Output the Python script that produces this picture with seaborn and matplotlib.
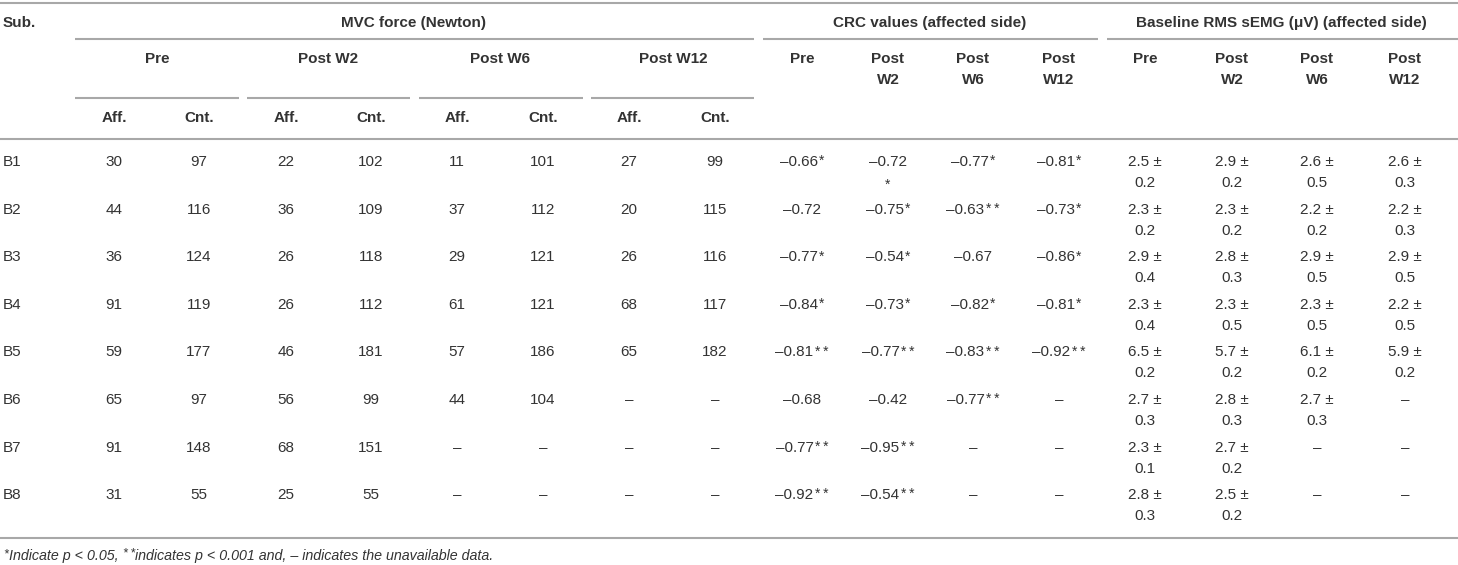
import numpy as np
import pandas as pd
import seaborn as sns
import matplotlib.pyplot as plt

sns.set_theme(style='white')
plt.rcParams['font.family'] = ['Liberation Sans', 'DejaVu Sans']

SUBJECTS = ['B1', 'B2', 'B3', 'B4', 'B5', 'B6', 'B7', 'B8']

# MVC force (Newton), affected / contralateral side
MVC_PRE_AFF = [30, 44, 36, 91, 59, 65, 91, 31]
MVC_PRE_CNT = [97, 116, 124, 119, 177, 97, 148, 55]
MVC_W2_AFF = [22, 36, 26, 26, 46, 56, 68, 25]
MVC_W2_CNT = [102, 109, 118, 112, 181, 99, 151, 55]
MVC_W6_AFF = [11, 37, 29, 61, 57, 44, None, None]
MVC_W6_CNT = [101, 112, 121, 121, 186, 104, None, None]
MVC_W12_AFF = [27, 20, 26, 68, 65, None, None, None]
MVC_W12_CNT = [99, 115, 116, 117, 182, None, None, None]

# CRC values (affected side) and significance marks
CRC_PRE = [-0.66, -0.72, -0.77, -0.84, -0.81, -0.68, -0.77, -0.92]
CRC_PRE_SIG = ['*', '', '*', '*', '**', '', '**', '**']
CRC_W2 = [-0.72, -0.75, -0.54, -0.73, -0.77, -0.42, -0.95, -0.54]
CRC_W2_SIG = ['*', '*', '*', '*', '**', '', '**', '**']
CRC_W6 = [-0.77, -0.63, -0.67, -0.82, -0.83, -0.77, None, None]
CRC_W6_SIG = ['*', '**', '', '*', '**', '**', '', '']
CRC_W12 = [-0.81, -0.73, -0.86, -0.81, -0.92, None, None, None]
CRC_W12_SIG = ['*', '*', '*', '*', '**', '', '', '']

# Baseline RMS sEMG (uV), mean and sd
RMS_PRE_MEAN = [2.5, 2.3, 2.9, 2.3, 6.5, 2.7, 2.3, 2.8]
RMS_PRE_SD = [0.2, 0.2, 0.4, 0.4, 0.2, 0.3, 0.1, 0.3]
RMS_W2_MEAN = [2.9, 2.3, 2.8, 2.3, 5.7, 2.8, 2.7, 2.5]
RMS_W2_SD = [0.2, 0.2, 0.3, 0.5, 0.2, 0.3, 0.2, 0.2]
RMS_W6_MEAN = [2.6, 2.2, 2.9, 2.3, 6.1, 2.7, None, None]
RMS_W6_SD = [0.5, 0.2, 0.5, 0.5, 0.2, 0.3, None, None]
RMS_W12_MEAN = [2.6, 2.2, 2.9, 2.2, 5.9, None, None, None]
RMS_W12_SD = [0.3, 0.3, 0.5, 0.5, 0.2, None, None, None]

GROUPS = ['MVC force (Newton)', 'CRC values (affected side)',
          'Baseline RMS sEMG (\u03bcV) (affected side)']
PERIODS = ['Pre', 'Post W2', 'Post W6', 'Post W12']
SIDES = ['Aff.', 'Cnt.']
FOOTNOTE = ['Indicate p < 0.05, ', 'indicates p < 0.001 and, \u2013 indicates the unavailable data.']
DASH = '\u2013'

mvc = pd.DataFrame({
    'pre_aff': MVC_PRE_AFF, 'pre_cnt': MVC_PRE_CNT,
    'w2_aff': MVC_W2_AFF, 'w2_cnt': MVC_W2_CNT,
    'w6_aff': MVC_W6_AFF, 'w6_cnt': MVC_W6_CNT,
    'w12_aff': MVC_W12_AFF, 'w12_cnt': MVC_W12_CNT,
}, index=SUBJECTS)
crc = [CRC_PRE, CRC_W2, CRC_W6, CRC_W12]
crc_sig = [CRC_PRE_SIG, CRC_W2_SIG, CRC_W6_SIG, CRC_W12_SIG]
rms = [(RMS_PRE_MEAN, RMS_PRE_SD), (RMS_W2_MEAN, RMS_W2_SD),
       (RMS_W6_MEAN, RMS_W6_SD), (RMS_W12_MEAN, RMS_W12_SD)]

# layout (pixels)
W, H = 1458, 565
MVC_X = [114, 199, 286, 371, 457, 543, 629, 715]
MVC_PERIOD_X = [157, 328, 500, 673]
MVC_UNDER = [(75, 239), (247, 410), (419, 583), (591, 754)]
CRC_X = [802, 888, 973, 1059]
RMS_X = [1145, 1232, 1317, 1405]
GROUP_X = [414, 930, 1281]
GROUP_LINES = [(75, 754), (763, 1098), (1107, W)]
ROW_Y0, ROW_STEP = 162, 47.6
WRAP_STAR = {(1, 0)}  # CRC Post W2, B1: mark falls onto a second line

TXT = '#333333'
LINE = '#a8a8a8'
FS = 11
STAR_FS = 10
STAR_W = {'': 0, '*': 6, '**': 15}


def stars(sig):
    return '\u2009'.join(sig)


fig = plt.figure(figsize=(W / 100, H / 100), dpi=100)
ax = fig.add_axes([0, 0, 1, 1])
ax.set_xlim(0, W)
ax.set_ylim(H, 0)
ax.axis('off')


def txt(x, y, s, bold=False, ha='center', size=FS, **kw):
    # y is the visual middle of capitals
    return ax.text(x, y + size * 0.36, s, ha=ha, va='baseline', fontsize=size,
                   fontweight='bold' if bold else 'normal', color=TXT, **kw)


def hline(y, x0, x1):
    ax.plot([x0, x1], [y, y], color=LINE, lw=1.5, solid_capstyle='butt')


# rules
hline(3, 0, W)
hline(139, 0, W)
hline(538, 0, W)
for x0, x1 in GROUP_LINES:
    hline(39, x0, x1)
for x0, x1 in MVC_UNDER:
    hline(98, x0, x1)

# header
txt(3, 23, 'Sub.', bold=True, ha='left')
for x, g in zip(GROUP_X, GROUPS):
    txt(x, 23, g, bold=True)
for x, p in zip(MVC_PERIOD_X, PERIODS):
    txt(x, 59, p, bold=True)
for i, x in enumerate(MVC_X):
    txt(x, 118, SIDES[i % 2], bold=True)
for xs in (CRC_X, RMS_X):
    for x, p in zip(xs, PERIODS):
        parts = p.split(' ')
        txt(x, 59, parts[0], bold=True)
        if len(parts) > 1:
            txt(x, 80, parts[1], bold=True)

# body
for r, subj in enumerate(SUBJECTS):
    y = ROW_Y0 + r * ROW_STEP
    txt(3, y, subj, ha='left')
    for c, col in enumerate(mvc.columns):
        v = mvc.iloc[r, c]
        txt(MVC_X[c], y, DASH if pd.isna(v) else f'{int(v)}')
    for c in range(4):
        v, sig = crc[c][r], crc_sig[c][r]
        if v is None:
            txt(CRC_X[c], y, DASH)
            continue
        s = f'{DASH}{abs(v):.2f}'
        if (c, r) in WRAP_STAR:
            txt(CRC_X[c], y, s)
            ax.text(CRC_X[c], y + 16, stars(sig), ha='center', va='top',
                    fontsize=STAR_FS, color=TXT)
            continue
        t = txt(CRC_X[c] - STAR_W[sig] / 2, y, s)
        if sig:
            ax.annotate(stars(sig), xy=(1, 1), xycoords=t, xytext=(0.8, 0.5),
                        textcoords='offset points', ha='left', va='top',
                        fontsize=STAR_FS, color=TXT)

    for c in range(4):
        m, sd = rms[c][0][r], rms[c][1][r]
        if m is None:
            txt(RMS_X[c], y, DASH)
            continue
        txt(RMS_X[c], y, f'{m:.1f} \u00b1')
        txt(RMS_X[c], y + 21, f'{sd:.1f}')

# footnote
FN_FS = 10.3
t1 = ax.text(9, 560, FOOTNOTE[0], ha='left', va='baseline', fontsize=FN_FS,
             style='italic', color=TXT)
ax.annotate('*', xy=(0, 1), xycoords=t1, xytext=(-0.5, 0.5),
            textcoords='offset points', ha='right', va='top',
            fontsize=STAR_FS - 1, style='italic', color=TXT)
s2 = ax.annotate(stars('**'), xy=(1, 1), xycoords=t1, xytext=(0, 0.5),
                 textcoords='offset points', ha='left', va='top',
                 fontsize=STAR_FS - 1, style='italic', color=TXT)
ax.annotate(FOOTNOTE[1], xy=(1, 0), xycoords=(s2, t1), ha='left', va='bottom',
            fontsize=FN_FS, style='italic', color=TXT)

fig.savefig('out.png', dpi=100)
